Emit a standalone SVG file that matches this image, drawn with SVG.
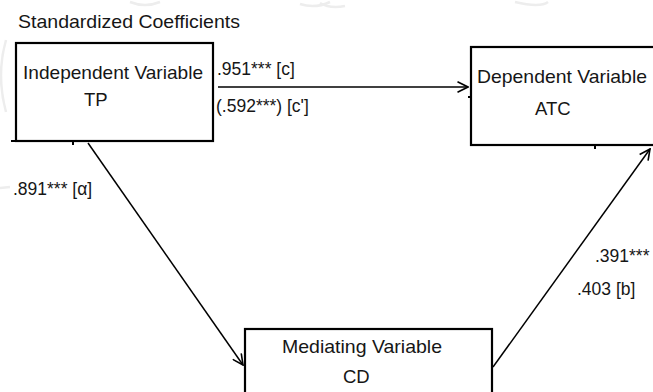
<svg xmlns="http://www.w3.org/2000/svg" width="653" height="392" viewBox="0 0 653 392">
  <style>
    .box { fill: #ffffff; stroke: #000000; stroke-width: 2.2; }
    .lbl { font-family: "Liberation Sans", Arial, sans-serif; font-size: 18.5px; fill: #161616; }
    .coef { font-family: "Liberation Sans", Arial, sans-serif; font-size: 17.5px; fill: #161616; }
    .edge { fill: none; stroke: #000000; stroke-width: 1.5; }
    .tick { fill: none; stroke: #000000; stroke-width: 2; }
    .wm { fill: none; stroke: #ededed; stroke-width: 2.5; }
  </style>
  <defs>
    <marker id="open-arrow" markerUnits="userSpaceOnUse" viewBox="0 0 12 12" refX="11" refY="6" markerWidth="12" markerHeight="12" orient="auto">
      <path d="M0.5,0.8 L11,6 L0.5,11.2" fill="none" stroke="#000000" stroke-width="1.6"/>
    </marker>
  </defs>

  <rect width="653" height="392" fill="#ffffff"/>

  <!-- faint background marks -->
  <g id="background-marks">
    <path class="wm" d="M6,40 Q-4,75 6,112"/>
    <path class="wm" d="M0,188 L10,187"/>
    <path class="wm" d="M130,2 Q145,8 160,2"/>
    <path class="wm" d="M300,4 Q315,9 330,2"/>
    <path class="wm" d="M320,3 Q330,9 345,6"/>
    <path class="wm" d="M515,2 Q540,8 548,2"/>
  </g>

  <text id="title" class="lbl" x="18" y="28" textLength="222" lengthAdjust="spacingAndGlyphs">Standardized Coefficients</text>

  <!-- connectors -->
  <g id="connectors">
    <line class="edge" x1="218" y1="87" x2="468" y2="87" marker-end="url(#open-arrow)"/>
    <line class="edge" x1="88" y1="143" x2="243" y2="365" marker-end="url(#open-arrow)"/>
    <line class="edge" x1="493" y1="367" x2="650" y2="149" marker-end="url(#open-arrow)"/>
    <text class="coef" x="217" y="75">.951*** [c]</text>
    <text class="coef" x="216" y="112">(.592***) [c']</text>
    <text class="coef" x="13" y="195">.891*** [α]</text>
    <text class="coef" x="595" y="262">.391***</text>
    <text class="coef" x="577" y="295">.403 [b]</text>
  </g>

  <!-- independent variable -->
  <g id="node-tp">
    <rect class="box" x="16" y="43" width="197" height="98"/>
    <text class="lbl" x="23" y="79" textLength="180" lengthAdjust="spacingAndGlyphs">Independent Variable</text>
    <text class="lbl" x="84" y="106">TP</text>
    <path class="tick" d="M11,141 L16,141 M73,141 L73,145"/>
  </g>

  <!-- dependent variable -->
  <g id="node-atc">
    <rect class="box" x="471" y="47" width="200" height="98"/>
    <text class="lbl" x="477" y="83" textLength="170" lengthAdjust="spacingAndGlyphs">Dependent Variable</text>
    <text class="lbl" x="535" y="115">ATC</text>
    <path class="tick" d="M468,97 L471,97 M595,145 L595,149"/>
  </g>

  <!-- mediating variable -->
  <g id="node-cd">
    <rect class="box" x="245" y="329" width="247" height="80"/>
    <text class="lbl" x="282" y="353" textLength="160" lengthAdjust="spacingAndGlyphs">Mediating Variable</text>
    <text class="lbl" x="343" y="383">CD</text>
  </g>
</svg>
